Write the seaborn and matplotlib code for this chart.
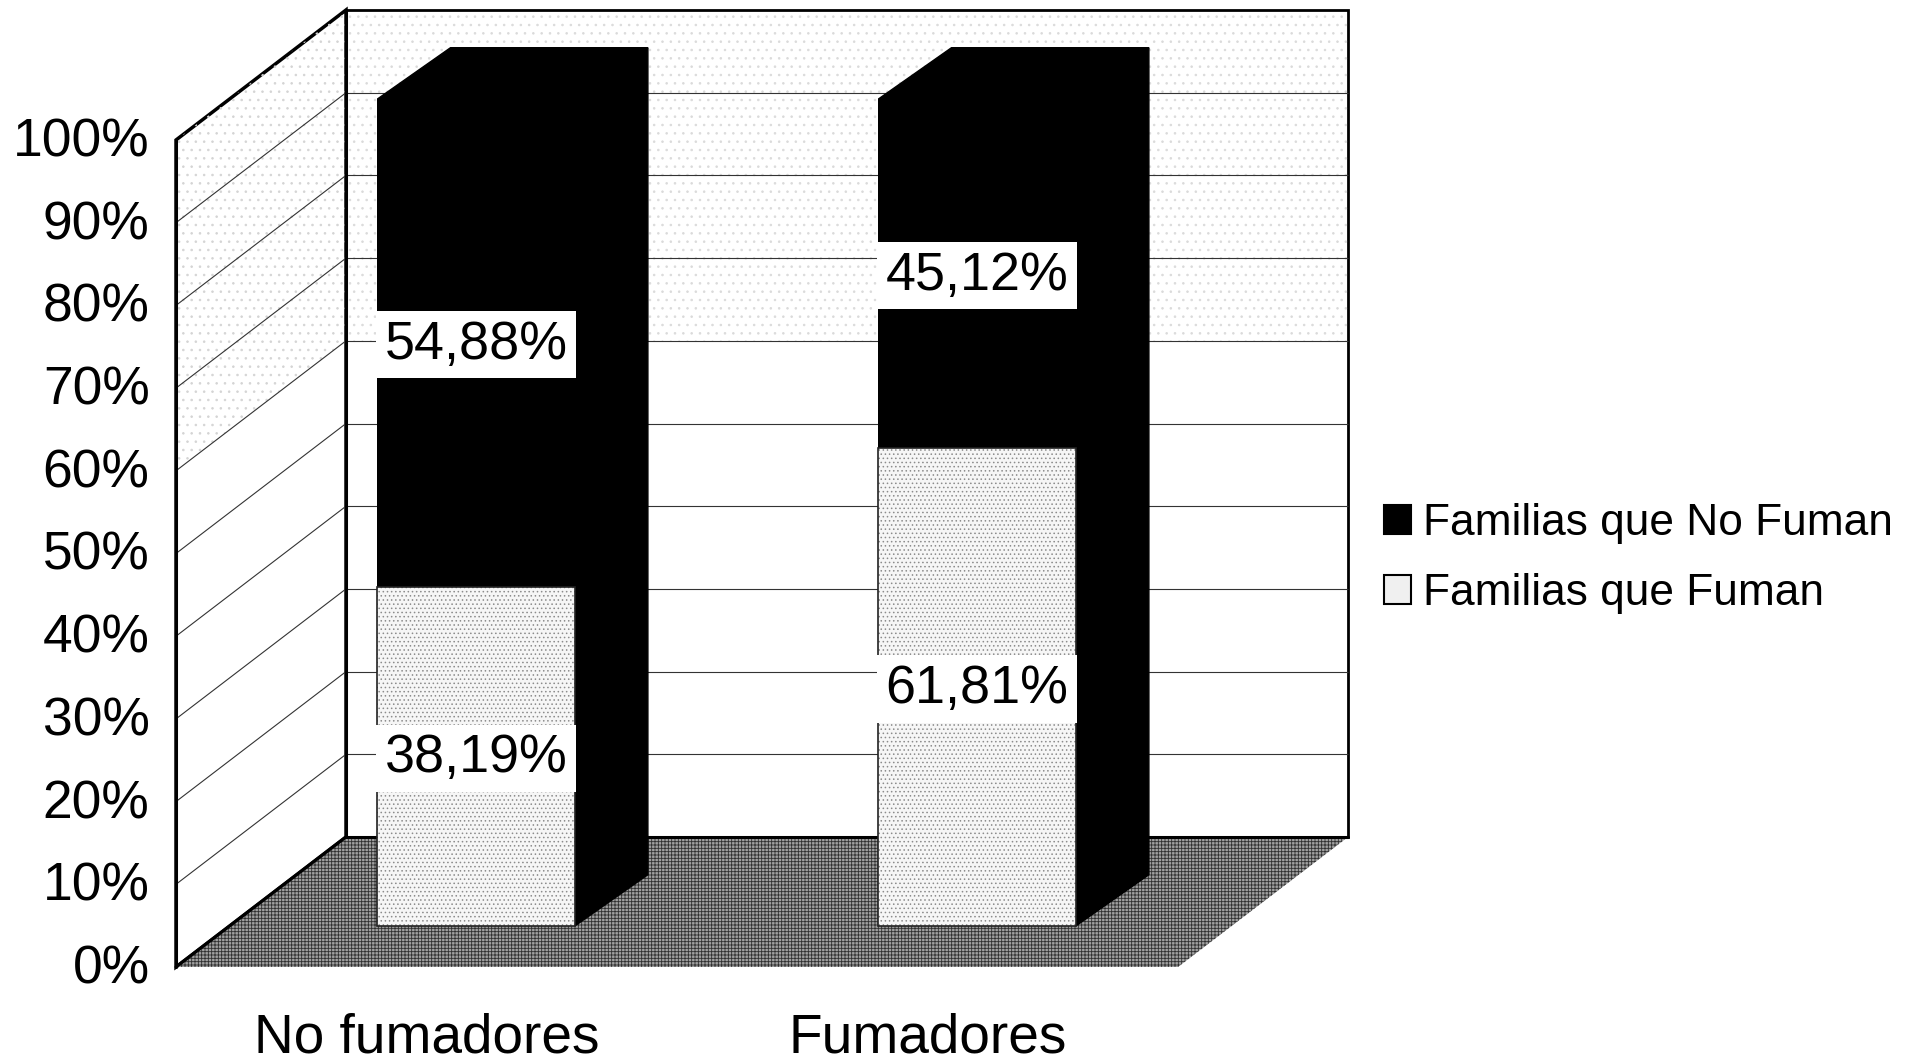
import numpy as np
import pandas as pd
import matplotlib.pyplot as plt
import seaborn as sns
from matplotlib.patches import Patch, Polygon, Rectangle
from matplotlib.transforms import Affine2D, IdentityTransform

categorias = ['No fumadores', 'Fumadores']
fuman = [38.19, 61.81]
no_fuman = [54.88, 45.12]
y_ticks = [0, 10, 20, 30, 40, 50, 60, 70, 80, 90, 100]
y_labels = ['0%', '10%', '20%', '30%', '40%', '50%', '60%', '70%', '80%', '90%', '100%']
serie_no_fuman = 'Familias que No Fuman'
serie_fuman = 'Familias que Fuman'

W, H = 1908, 1061
DX, DY = 170, 130
BAR_FRONT, BAR_BACK = 0.315, 0.71
FRONT_SHIFT, BACK_SHIFT = -4, 2

sns.set_theme(style='white')
plt.rcParams['font.family'] = ['Liberation Sans', 'DejaVu Sans']
plt.rcParams['hatch.linewidth'] = 0.6

fig = plt.figure(figsize=(W / 100, H / 100), dpi=100)
ax = fig.add_axes([176 / W, (H - 967) / H, 1002 / W, 827 / H])
ax.patch.set_visible(False)

# 100% stacked, same as the original chart
df = pd.DataFrame({'grupo': categorias, 'fuman': fuman, 'no_fuman': no_fuman})
df['total'] = df['fuman'] + df['no_fuman']
df['share_fuman'] = df['fuman'] / df['total'] * 100
df['share_todo'] = 100.0

sns.barplot(data=df, x='grupo', y='share_todo', color='black', width=0.394, saturation=1, ax=ax)
n_top = len(ax.patches)
sns.barplot(data=df, x='grupo', y='share_fuman', color='#f6f6f6', width=0.394, saturation=1, ax=ax)

ax.set_xlim(-0.5, 1.5)
ax.set_ylim(0, 100)
ax.set_xlabel('')
ax.set_ylabel('')
ax.set_yticks(y_ticks)
ax.set_yticklabels(y_labels)
ax.tick_params(axis='y', length=0, pad=19, labelsize=38.4, colors='black')
ax.tick_params(axis='x', length=0, pad=33, labelsize=39.6, colors='black')
sns.despine(ax=ax, left=True, bottom=True)
for lab in ax.get_yticklabels():
    lab.set_transform(lab.get_transform() + Affine2D().translate(0, 3))


def depth(d, shift=0):
    return ax.transData + Affine2D().translate(d * DX + shift, d * DY)


def project(x, y, d, shift=0):
    px = ax.transData.transform((x, y))
    return (px[0] + d * DX + shift, px[1] + d * DY)


def face(points, **kw):
    pts = [project(*p) for p in points]
    poly = Polygon(pts, closed=True, transform=IdentityTransform(), clip_on=False, **kw)
    ax.add_patch(poly)
    return poly


xa, xb = ax.get_xlim()

# walls and floor
face([(xa, 0, 0), (xa, 0, 1), (xa, 100, 1), (xa, 100, 0)], facecolor='white', edgecolor='black', lw=2.5, zorder=0.5)
face([(xa, 0, 1), (xb, 0, 1), (xb, 100, 1), (xa, 100, 1)], facecolor='white', edgecolor='black', lw=2, zorder=0.5)
face([(xa, 60, 0), (xa, 60, 1), (xa, 100, 1), (xa, 100, 0)], facecolor='none', edgecolor='#d4d4d4', lw=0, hatch='..', zorder=0.6)
face([(xa, 60, 1), (xb, 60, 1), (xb, 100, 1), (xa, 100, 1)], facecolor='none', edgecolor='#dadada', lw=0, hatch='..', zorder=0.6)
face([(xa, 0, 0), (xb, 0, 0), (xb, 0, 1), (xa, 0, 1)], facecolor='#a0a0a0', edgecolor='#303030', lw=0, hatch='+++++', zorder=0.7)

# gridlines
ax.hlines(y_ticks[1:-1], xa, xb, transform=depth(1), colors='#333333', lw=0.8, zorder=0.8, clip_on=False)
for yt in y_ticks[1:-1]:
    p0, p1 = project(xa, yt, 0), project(xa, yt, 1)
    ax.plot([p0[0], p1[0]], [p0[1], p1[1]], color='#333333', lw=0.8, transform=IdentityTransform(), zorder=0.8, clip_on=False)

# floor and wall edges on top of the texture
for seg in ([(xa, 0, 0), (xa, 0, 1)], [(xa, 0, 1), (xb, 0, 1)], [(xa, 0, 0), (xa, 100, 0)], [(xa, 0, 1), (xa, 100, 1)]):
    p0, p1 = project(*seg[0]), project(*seg[1])
    ax.plot([p0[0], p1[0]], [p0[1], p1[1]], color='black', lw=2.2, transform=IdentityTransform(), zorder=0.9, clip_on=False)

# bars: front faces moved in depth, black top and side faces built from them
bars = [b for b in ax.patches if isinstance(b, Rectangle)]
top_bars = bars[:n_top]
low_bars = bars[n_top:n_top + len(categorias)]
tr = depth(BAR_FRONT, FRONT_SHIFT)

for b in top_bars:
    x0, x1, y1 = b.get_x(), b.get_x() + b.get_width(), b.get_height()
    b.set_transform(tr)
    b.set_clip_on(False)
    b.set_zorder(3)
    b.set_linewidth(0)
    face([(x1, 0, BAR_FRONT, FRONT_SHIFT), (x1, 0, BAR_BACK, BACK_SHIFT), (x1, y1, BAR_BACK, BACK_SHIFT), (x1, y1, BAR_FRONT, FRONT_SHIFT)],
         facecolor='black', edgecolor='black', lw=1, zorder=2)
    face([(x0, y1, BAR_FRONT, FRONT_SHIFT), (x0, y1, BAR_BACK, BACK_SHIFT), (x1, y1, BAR_BACK, BACK_SHIFT), (x1, y1, BAR_FRONT, FRONT_SHIFT)],
         facecolor='black', edgecolor='black', lw=1, zorder=2)

for b in low_bars:
    b.set_transform(tr)
    b.set_clip_on(False)
    b.set_zorder(4)
    b.set_linewidth(0)
    b.set_edgecolor('#8c8c8c')
    b.set_hatch('....')
    ax.add_patch(Rectangle((b.get_x(), 0), b.get_width(), b.get_height(), fill=False, edgecolor='#222222', lw=1.2,
                           transform=tr, clip_on=False, zorder=4.5))

# data labels
label_tr = tr + Affine2D().translate(0, -2)
for i, (b, share) in enumerate(zip(low_bars, df['share_fuman'])):
    box = dict(facecolor='white', edgecolor='none', boxstyle='square,pad=0.16')
    cx = b.get_x() + b.get_width() / 2
    ax.text(cx, share / 2, f'{fuman[i]:.2f}%'.replace('.', ','), transform=label_tr, ha='center', va='center',
            fontsize=38.8, color='black', bbox=box, zorder=6, clip_on=False)
    ax.text(cx, share + (100 - share) / 2, f'{no_fuman[i]:.2f}%'.replace('.', ','), transform=label_tr, ha='center', va='center',
            fontsize=38.8, color='black', bbox=box, zorder=6, clip_on=False)

# legend
handles = [Patch(facecolor='black', edgecolor='black', lw=1.5, label=serie_no_fuman),
           Patch(facecolor='#f0f0f0', edgecolor='black', lw=1.5, label=serie_fuman)]
fig.legend(handles=handles, loc='upper left', bbox_to_anchor=(1384 / W, (H - 503) / H), frameon=False,
           fontsize=31.9, handlelength=0.62, handleheight=0.62, handletextpad=0.26, labelspacing=0.66,
           borderpad=0, borderaxespad=0, labelcolor='black')

fig.savefig('out.png', dpi=100)
